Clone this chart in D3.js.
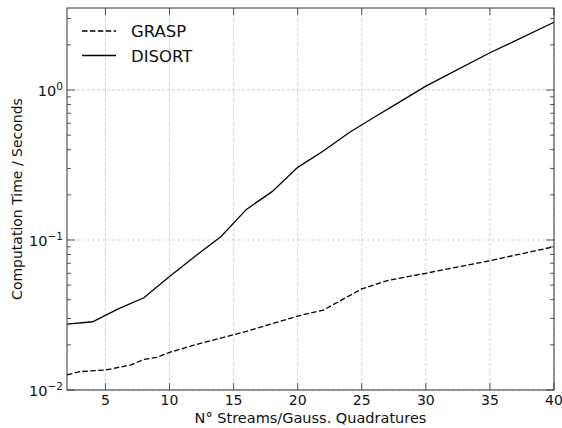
<!DOCTYPE html>
<html><head><meta charset="utf-8">
<script src="https://cdn.jsdelivr.net/npm/d3@7"></script>
<style>body{margin:0;background:#fff}svg text{font-family:"DejaVu Sans",sans-serif}</style>
</head><body><svg id="c" width="562" height="428"></svg>
<script>
const graspX = [2,3,5,7,8,9,10,12,14,16,18,20,22,25,27,30,35,40];
const graspY = [0.0126,0.01325,0.0136,0.0147,0.016,0.0165,0.0178,0.020,0.0222,0.0246,0.0277,0.0311,0.0341,0.0472,0.0536,0.060,0.0728,0.0902];
const disortX = [2,4,6,8,10,12,14,16,18,20,22,24,26,28,30,35,40];
const disortY = [0.0275,0.0285,0.0347,0.0412,0.057,0.078,0.105,0.16,0.21,0.305,0.392,0.519,0.66,0.837,1.06,1.77,2.83];
const xTicks = [5,10,15,20,25,30,35,40];
const yTicks = [0.01,0.1,1];
const seriesNames = ["GRASP","DISORT"];

const svg = d3.select("#c");
const L=67,R=554,T=8,B=390;
const x = d3.scaleLinear().domain([2,40]).range([L,R]);
const y = d3.scaleLog().domain([0.01,3.52]).range([B,T]);

// grid
const grid = svg.append("g").attr("stroke","#c8c8c8").attr("stroke-width",0.8).attr("stroke-dasharray","3,2");
xTicks.forEach(t=>grid.append("line").attr("x1",x(t)).attr("x2",x(t)).attr("y1",T).attr("y2",B));
yTicks.forEach(t=>grid.append("line").attr("x1",L).attr("x2",R).attr("y1",y(t)).attr("y2",y(t)));

// minor ticks
const minor=[];
[0.01,0.1,1].forEach(d=>{for(let k=2;k<=9;k++){const v=d*k; if(v<=3.52) minor.push(v);}});
const tk = svg.append("g").attr("stroke","#555").attr("stroke-width",1);
minor.forEach(v=>{
  tk.append("line").attr("x1",L).attr("x2",L+4).attr("y1",y(v)).attr("y2",y(v));
  tk.append("line").attr("x1",R-4).attr("x2",R).attr("y1",y(v)).attr("y2",y(v));
});
yTicks.forEach(v=>{
  tk.append("line").attr("x1",L).attr("x2",L+8).attr("y1",y(v)).attr("y2",y(v));
  tk.append("line").attr("x1",R-8).attr("x2",R).attr("y1",y(v)).attr("y2",y(v));
});
xTicks.forEach(t=>{
  tk.append("line").attr("x1",x(t)).attr("x2",x(t)).attr("y1",B).attr("y2",B-7);
  tk.append("line").attr("x1",x(t)).attr("x2",x(t)).attr("y1",T).attr("y2",T+7);
});

// lines
const line = d3.line().x(d=>x(d[0])).y(d=>y(d[1]));
svg.append("path").datum(graspX.map((v,i)=>[v,graspY[i]])).attr("d",line)
  .attr("fill","none").attr("stroke","#000").attr("stroke-width",1.3).attr("stroke-dasharray","5.5,2.4");
svg.append("path").datum(disortX.map((v,i)=>[v,disortY[i]])).attr("d",line)
  .attr("fill","none").attr("stroke","#000").attr("stroke-width",1.3);

// frame
svg.append("rect").attr("x",L).attr("y",T).attr("width",R-L).attr("height",B-T)
  .attr("fill","none").attr("stroke","#333").attr("stroke-width",1);

// tick labels
xTicks.forEach(t=>svg.append("text").attr("x",x(t)).attr("y",B+15).attr("text-anchor","middle")
  .attr("font-size",14).attr("fill","#111").text(t));
yTicks.forEach(v=>{
  const e=Math.round(Math.log10(v));
  const tx=svg.append("text").attr("x",L-4).attr("y",y(v)+6).attr("text-anchor","end").attr("font-size",14.5).attr("fill","#111");
  tx.append("tspan").text("10");
  tx.append("tspan").attr("dy",-6).attr("font-size",10.5).text(e===0?"0":"\u2212"+Math.abs(e));
});

// axis labels
svg.append("text").attr("x",(L+R)/2).attr("y",423).attr("text-anchor","middle").attr("font-size",14.5)
  .attr("fill","#111").text("N\u00b0 Streams/Gauss. Quadratures");
svg.append("text").attr("transform",`translate(22,${(T+B)/2}) rotate(-90)`).attr("text-anchor","middle")
  .attr("font-size",14).attr("fill","#111").text("Computation Time / Seconds");

// legend
const lg = svg.append("g");
[["5.5,2.4",31],[null,55.5]].forEach((s,i)=>{
  const l=lg.append("line").attr("x1",82).attr("x2",116).attr("y1",s[1]).attr("y2",s[1]).attr("stroke","#000").attr("stroke-width",1.3);
  if(s[0]) l.attr("stroke-dasharray",s[0]);
  lg.append("text").attr("x",131).attr("y",s[1]+6).attr("font-size",16.5).attr("fill","#111").text(seriesNames[i]);
});
</script></body></html>
